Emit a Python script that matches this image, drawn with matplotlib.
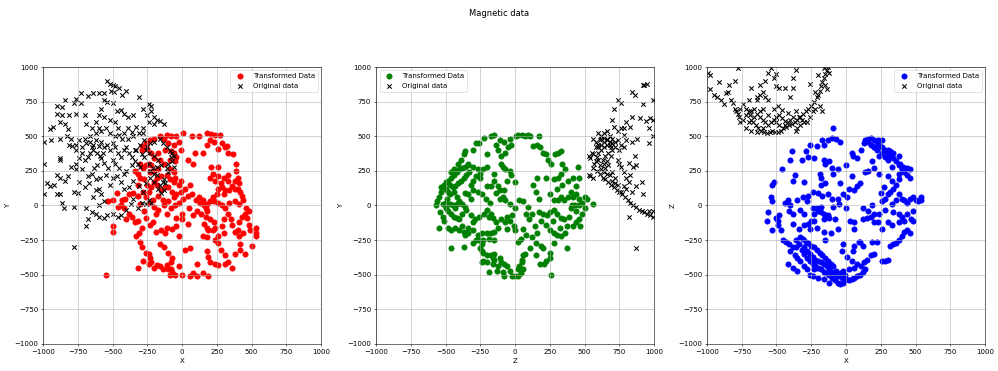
import matplotlib
matplotlib.use("Agg")
import matplotlib.pyplot as plt

# panel 1: X vs Y
xy_trans_x = [-160, -110, -80, -40, 10, 70, 120, 180, 210, 240, 270, 290, 260, 320, 200, 230, 180, 150, 90, 40, 80, -10, -20, -60, -100, -130, -200, -230, -260, -290, -290, -250, -220, -170, -120, -80, -60, -40, -50, -90,
              310, 330, 370, 390, 390, 330, 300, 260, 280, 240, 220, 200, 210, 260, 330, 360, 380, 400, 410, 400, 420, 430, 380, 340, 310, 290, 260, 300, 250, 220, 230, 260, 290, 310, 340, 380, 410, 440, 460, 480, 450, 430, 410, 400, 440, 410, 380, 360, 350, 330, 300, 290, 300, 260, 240, 230, 200, 180, 170, 160, 180, 200, 150, 130, 110, 140, 170, 180, 190, 180, 150, 160, 220, 240, 260, 280, 310, 330, 380, 420, 450, 500, 530, 530, 530, 490, 480, 470, 420, 360, 310, 260, 240, 200, 180, 190, 190, 150, 110, 80, 60, 20, 60, 110, 0, -20, -50, -70, -90, -80, -100, -110, -140, -160, -180, -200, -220, -240, -230, -240, -260, -280, -320, -290, -300, -330, -310, -290, -340, -360, -400, -380, -420, -440, -460, -500, -500, -550, -530, -500, -470, -430, -410, -380, -350, -320, -300, -270, -260, -230, -210, -190, -160, -130, -100, -70, -80, -20, -40, -70, -110, -120, -150, -190, -170, -130, -100, -60, -40, -10, -50, -20, 10, 40, 70, 100, 120, 60, 20, -20, -60, -90, -110, -150, -180, -200, -230, -240, -260, -280, -300, -320, -300, -270, -250, -220, -200, -240, -280, -320, -260, -210, -170, -150, -120, -170, -200, -160, -130, -90, -60, -50, -10, -100, -70, -140, -110, -80, -40, 0, 50, 80, 40, 0, -320, -200, -240, -340, -220, -180]
xy_trans_y = [500, 510, 500, 505, 520, 505, 500, 520, 515, 510, 510, 450, 410, 430, 470, 460, 440, 380, 380, 330, 300, 400, 460, 440, 450, 480, 480, 470, 450, 430, 400, 410, 380, 380, 400, 390, 380, 350, 320, 330,
              420, 380, 370, 300, 250, 220, 200, 210, 160, 180, 230, 200, 280, 280, 180, 140, 180, 200, 160, 120, 100, 70, 120, 110, 110, 130, 120, 80, 80, 60, 30, 20, 0, -20, 20, 30, 10, 40, -20, -40, -60, -80, -120, -180, -200, -220, -190, -140, -100, -60, -100, -150, -200, -220, -160, -120, -100, -40, -20, 0, 10, 30, 40, 20, -40, -60, -80, -160, -180, -230, -220, -130, -180, -250, -270, -320, -360, -410, -350, -320, -350, -290, -160, -200, -220, -180, -140, -90, -280, -450, -420, -430, -420, -410, -330, -370, -510, -490, -510, -490, -510, -320, -310, -420, -500, -440, -500, -480, -500, -460, -460, -430, -460, -440, -430, -450, -410, -420, -380, -350, -340, -400, -450, -300, -260, -220, -200, -160, -120, -80, -100, -60, -20, 0, -10, -150, -190, -505, 30, 40, 90, 40, 50, 80, 90, 70, 10, -40, -90, -140, -120, -190, -280, -300, -340, -380, -410, -220, -150, -170, -160, -200, -180, -60, -30, 0, 30, 60, 80, 100, 0, 20, 50, 70, 80, 40, 60, 150, 120, 150, 170, 190, 220, 210, 200, 250, 240, 300, 290, 270, 300, 230, 200, 190, 150, 130, 170, 100, 100, 150, 60, 40, 70, 110, 130, 260, 340, 330, 300, 260, 240, 200, 180, 130, 100, 40, -60, -20, -90, -60, -20, -70, -130, -100, -110, -10, 20, 250, 290, 150]
xy_orig_x = [-540, -520, -500, -480, -450, -510, -490, -400, -430, -560, -600, -640, -680, -730, -760, -780, -840, -860, -900, -860, -900, -880, -930, -950, -990, -940, -880, -820, -840, -810, -760, -730, -700, -690, -650, -620, -600, -580, -560, -540, -500, -470, -440, -420, -390, -350, -330, -310, -280, -240, -220, -220, -250, -200, -180, -160, -130, -200, -240, -280, -310, -350, -390, -420, -450, -480, -520, -550, -580, -520, -560, -600, -620, -660, -700, -740, -760, -790, -810, -760, -720, -690, -660, -640, -620, -600, -580, -560, -540, -520, -500, -480, -460, -440, -420, -400, -380, -360, -340, -320, -300, -340, -300, -270, -250, -230, -200, -160, -140, -110, -90, -80, -70, -60, -100, -130, -140, -130, -120, -160, -180, -210, -240, -270, -290, -330, -360, -400, -420, -450, -480, -500, -530, -560, -580, -610, -630, -650, -680, -720, -760, -800, -820, -840, -880, -900, -920, -950, -970, -990, -900, -880, -860, -850, -780, -750, -780, -690, -680, -690, -650, -620, -600, -560, -540, -500, -460, -440, -400, -370, -350, -320, -290, -260, -240, -220, -600, -560, -580, -600, -620, -640, -670, -700, -740, -520, -500, -470, -440, -420, -380, -350, -310, -280, -260, -230, -200, -170, -150, -550, -590, -620, -640, -660, -680, -700, -720, -740, -760, -780, -880, -880, -990, -800, -830, -650, -610, -590, -570, -480, -460, -430, -390, -360, -280, -260, -240, -200, -170, -150, -110, -100, -70, -60, -180, -200, -230]
xy_orig_y = [900, 880, 870, 860, 850, 830, 820, 830, 800, 810, 810, 810, 790, 810, 770, 740, 760, 710, 720, 650, 660, 600, 570, 550, 460, 470, 480, 550, 590, 650, 660, 740, 650, 590, 560, 600, 650, 700, 760, 750, 740, 680, 690, 660, 640, 650, 570, 780, 700, 730, 720, 680, 650, 640, 620, 610, 590, 590, 600, 560, 520, 500, 480, 520, 510, 500, 520, 560, 540, 620, 640, 560, 520, 500, 480, 470, 440, 430, 440, 400, 420, 450, 460, 440, 470, 430, 460, 420, 440, 400, 450, 420, 380, 350, 400, 420, 380, 350, 320, 300, 280, 400, 440, 470, 420, 450, 460, 480, 450, 420, 390, 350, 320, 280, 240, 190, 170, 110, 160, 150, 220, 270, 300, 350, 370, 400, 290, 250, 230, 270, 300, 330, 270, 310, 340, 290, 270, 230, 210, 260, 260, 280, 210, 180, 200, 220, 150, 140, 160, 80, 80, 80, 20, -20, 100, 90, -10, -20, -100, -150, -50, -60, -80, -90, -70, -60, -80, -70, -30, 10, 50, -20, 20, 10, 40, 20, 0, 30, 80, 120, 110, 60, 160, 130, 170, 150, 200, 210, 170, 120, 130, 180, 140, 100, 160, 200, 170, 120, 90, 220, 200, 190, 400, 380, 350, 330, 380, 340, 300, -300, 340, 330, 300, 480, 500, 420, 380, 360, 380, 600, 560, 480, 560, 530, 520, 400, 380, 360, 330, 290, 270, 300, 380, 360, 280, 230, 250]

# panel 2: Z vs Y
zy_trans_z = [-150, -170, -220, -260, -280, -300, -360, -370, -390, -410, -340, -300, -270, -230, -200, -120, -140, -110, -80, -40, -30, -50, 10, 20, 50, 70, 90, 110, 170, 130, 160, 180, 200, 220, 240, 260, 290, 310, 330, 340, 360, 330, 310, 280, 220, 160, 130, 150, 170, 250, 300, 340, 380, 420, 460, 450, 440, 400, 380, 350, 330, 310, 280, 420, 440, 460, 480, 500, 520, 560, 500, 480, 460, 440, 420, 470, 440, 400, 410, 430, 460, 390, 370, 360, 330, 300, 280, 320, 250, 220, 190, 170, 200, 230, 250, 270, 280, 250, 220, 250, 260, 180, 210, 150, 110, 120, 160, 60, 80, 40, 20, 70, 60, 50, 50, 30, 20, 60, 40, 20, 0, -20, -40, -60, -80, -100, -110, -150, -160, -120, -130, -90, -80, -200, -170, -160, -150, -190, -230, -240, -200, -230, -240, -250, -240, -230, -190, -150, -120, -150, -170, -200, -240, -270, -300, -340, -360, -370, -400, -370, -300, -280, -260, -300, -340, -380, -430, -460, -480, -460, -550, -510, -520, -540, -570, -560, -550, -530, -530, -510, -500, -480, -460, -440, -420, -400, -380, -360, -340, -440, -460, -500, -480, -470, -490, -500, -520, -500, -480, -460, -440, -420, -400, -380, -350, -320, -290, -260, -220, -200, -180, -210, -240, -270, -300, -320, -300, -280, -250, -370, -350, -330, -390, -410, -430, -450, -470, -440, -420, -400, -380, -360, -420, -450, -430, -470, -360, -340, -320, -200, -170, -150, -120, -110, -90, -70, -40, 0, 30, 60, 90, -20, -40, -10, 0, -60, -70, -60, -100, -140, -160, -170, -190, -140, -110, -80, -60, -30, -40, -70, 0, -150, -100, -70, -100, -90, -200, -250, 120, 140, 150, 190, 200, 80, 100, 370, 330, 300, 280, 350]
zy_trans_y = [510, 500, 490, 450, 450, 400, 390, 370, 330, 300, 300, 280, 260, 260, 370, 400, 440, 470, 460, 480, 440, 420, 500, 510, 510, 500, 510, 500, 500, 430, 440, 420, 380, 370, 330, 300, 370, 380, 390, 300, 260, 230, 200, 190, 200, 200, 150, 100, 50, 80, 120, 150, 180, 200, 200, 280, 140, 100, 60, 40, 60, 40, 40, 60, 80, 50, 20, 60, 50, 10, -20, -60, -100, -120, -150, -150, -40, -20, 0, 0, 0, -80, -150, -200, -220, -210, -200, -160, -180, -140, -110, -50, -60, -70, -50, -110, -270, -340, -400, -380, -500, -420, -420, -360, -310, -230, -200, -170, -210, -240, -260, -350, -360, -390, -410, -440, -460, -460, -490, -510, -510, -510, -470, -440, -420, -410, -380, -390, -420, -440, -470, -480, -510, -410, -360, -380, -350, -480, -400, -410, -360, -340, -330, -310, -280, -250, -240, -250, -160, -190, -200, -200, -200, -210, -180, -200, -210, -190, -180, -300, -270, -250, -250, -120, -160, -150, -160, -180, -160, -310, -160, -110, -80, -50, 0, 30, 60, 100, 130, 150, 170, 180, 200, 220, 240, 260, 270, 280, 290, 260, 240, 120, 100, 80, 50, 20, 10, -20, -40, -60, -80, -90, -100, -60, -30, -70, -100, -80, -60, -30, 20, 50, 80, 100, 110, 150, 180, 210, 230, 200, 220, 240, 180, 160, 140, 130, 150, 100, 60, 30, 10, -10, 10, 0, -20, 10, 90, 80, 50, 140, 140, 180, 140, 110, 60, 40, 10, -20, 40, 30, -10, -70, -110, -150, -180, -170, -120, -80, -100, -120, -90, -60, -80, 90, 50, 110, 180, 220, 250, 260, 170, 230, 360, 380, 300, 280, 280, 200, -60, -150, -270, -290, -310, -60, -100, -310, -90, -60, -30, -100]
zy_orig_z = [530, 540, 550, 560, 530, 540, 560, 570, 580, 590, 600, 620, 640, 660, 680, 700, 580, 600, 610, 620, 640, 660, 680, 660, 640, 620, 600, 580, 560, 600, 620, 640, 660, 680, 690, 700, 700, 720, 740, 760, 780, 750, 720, 670, 650, 630, 610, 620, 640, 660, 680, 650, 670, 640, 600, 660, 690, 630, 650, 670, 690, 710, 730, 750, 770, 790, 810, 830, 850, 870, 890, 910, 930, 950, 970, 990, 700, 720, 740, 780, 800, 820, 840, 870, 910, 920, 800, 780, 760, 740, 820, 850, 870, 830, 860, 880, 840, 800, 780, 760, 740, 710, 700, 710, 740, 760, 780, 800, 830, 840, 860, 840, 900, 920, 940, 970, 990, 960, 990, 990, 930, 920, 950, 960, 870, 820, 760, 720, 700, 590, 560, 610, 750, 990, 960]
zy_orig_y = [360, 340, 380, 370, 220, 210, 200, 300, 320, 350, 380, 400, 420, 440, 460, 480, 420, 440, 470, 500, 520, 540, 500, 480, 460, 440, 420, 460, 480, 520, 480, 490, 470, 440, 420, 400, 450, 460, 470, 440, 420, 400, 420, 380, 360, 330, 290, 260, 240, 230, 220, 270, 290, 300, 330, 320, 360, 200, 190, 170, 150, 130, 110, 100, 80, 60, 40, 20, 0, -10, -30, -40, -50, -60, -70, -80, 180, 160, 150, 140, 120, 170, 100, 140, 170, 80, 200, 240, 280, 330, 310, 280, 290, 220, 360, 480, 460, 470, 510, 560, 540, 570, 620, 700, 760, 740, 560, 600, 570, 640, 800, 820, 630, 730, 610, 630, 620, 560, 500, 760, 870, 870, 880, 450, -310, -80, 100, 200, 240, 250, 270, 230, 300, -40, -40]

# panel 3: X vs Z
xz_trans_x = [-90, -100, -70, -40, -130, -170, -160, -210, -260, -390, -400, -460, -370, -380, -300, -520, -530, -540, -530, -560, -570, -530, -500, -490, -470, -450, -430, -410, -420, -380, -350, -400, -360, -340, -320, -300, -280, -260, -240, -220, -200, -180, -160, -140, -120, -100, -80, -60, -40, -20, -10, -30, -50, -70, -90, -110, -130, -150, -170, -190, -210, -230, -250, -270, -290, -310, -330, -300, -280, -260, -240, -220, -200, -180, -160, -140, -120, -100, -80, -60, -40, -20, -10, -260, -280, -240, -200, -160, -120, -230, -300, -330, -350, -370, -380, -360, -300, -270, -250, -230, -210, -180, -200, -230, -210, -260, -300, -330, -350, -310, -280, -240, -160, -140, -120, -90, -50, -60, -100, -130, -170, -200, -180, -180, -90, -100, -60, -40, -20, 10, 20, 60, 80, 100, 40, 0, 50, 40, 80, 110, 130, 140, 160, 180, 200, 220, 240, 260, 280, 300, 320, 340, 360, 380, 400, 420, 440, 460, 260, 280, 300, 240, 220, 200, 180, 160, 300, 320, 260, 230, 200, 340, 380, 390, 410, 440, 460, 400, 380, 360, 340, 320, 300, 280, 260, 360, 380, 400, 420, 440, 460, 480, 500, 520, 540, 540, 480, 480, 470, 460, 440, 420, 400, 380, 360, 340, 320, 300, 280, 260, 200, 180, 150, 140, 120, 100, 80, 60, 40, 20, 0, 60, 80, 120, 100, 60, 10, 20, 40, 120, 150, 180, 200, 160, 240, 230, 190, 220, 260, 300, 330, 380, 380, 400, 420, 440, 200, 120, 190, 280, 340, 60, -60, -130, -80, 0, 30, 60, -110, -160, -20, -30, -180, -190, -150, -120, -160, -230, -320, -290, -270, -440, -420, -480, -490, -410, -400, -380, -380, -340, -150, -160, 140, 160, 190, 200, 240, 300, 330, 330, 380, 270, 250, 330, 90, 50, 130, 110, -150, -240, -270]
xz_trans_z = [560, 490, 480, 460, 470, 470, 440, 430, 440, 390, 330, 260, 220, 180, 170, 170, 150, 60, 30, -50, -110, -180, -90, -140, -180, -250, -260, -280, -420, -450, -470, -330, -300, -280, -320, -350, -380, -400, -420, -440, -450, -460, -480, -490, -500, -520, -540, -560, -570, -560, -540, -520, -500, -470, -440, -420, -400, -380, -360, -340, -320, -300, -290, -270, -260, -240, -230, -300, -330, -350, -370, -390, -400, -410, -420, -440, -460, -480, -500, -510, -490, -470, -500, -500, -460, -510, -520, -530, -560, -460, -440, -400, -380, -360, -300, -250, -140, -130, -110, -60, -20, -10, -40, -110, -160, -170, -60, -30, 40, 60, 30, -20, -60, -80, -90, -10, 10, 50, 50, 80, 70, 90, 150, 200, 230, 270, 260, 160, 80, 60, 120, 110, 140, 160, 210, 290, 360, 380, 340, 400, 450, 470, 480, 490, 470, 460, 440, 420, 400, 380, 360, 340, 320, 290, 270, 240, 220, 200, 380, 350, 330, 360, 400, 420, 440, 460, 400, 390, 470, 470, 420, 380, 360, 300, 280, 270, 260, 260, 230, 150, 120, 100, 80, 50, 30, 40, 80, 50, 40, 20, 50, 60, 40, 30, 60, 40, -40, -110, -100, -200, -180, -190, -220, -250, -270, -280, -290, -390, -400, -400, -350, -360, -390, -460, -480, -500, -510, -520, -530, -540, -530, -450, -420, -290, -260, -290, -370, -460, -400, -100, -90, -80, -60, -40, -60, -120, -260, -260, -170, -120, -140, -120, -60, -80, -110, -60, -120, -20, 0, -30, -50, -170, -170, -70, -100, -20, -110, -120, -200, -190, -280, -330, -50, 230, 300, 320, 330, 340, 330, 390, 350, 20, 40, -70, -110, -40, 0, -60, -130, -170, -250, -100, 240, 250, 320, 270, 230, 210, 180, 280, 190, 130, 90, 10, -260, -330, -410, -440, 160, 100, 70]
xz_orig_x = [-990, -980, -980, -950, -930, -910, -900, -880, -860, -840, -850, -830, -810, -800, -790, -780, -770, -760, -780, -800, -740, -720, -700, -690, -680, -670, -650, -630, -610, -590, -570, -550, -530, -510, -490, -470, -450, -430, -410, -390, -370, -350, -330, -310, -290, -270, -250, -230, -210, -200, -190, -180, -170, -160, -150, -140, -130, -740, -720, -700, -680, -660, -640, -620, -600, -580, -560, -540, -520, -500, -480, -460, -440, -420, -400, -380, -360, -340, -320, -660, -640, -620, -600, -620, -580, -560, -540, -500, -520, -500, -480, -440, -400, -380, -380, -360, -580, -560, -680, -640, -700, -760, -720, -680, -640, -600, -560, -520, -490, -460, -420, -300, -280, -260, -240, -220, -260, -220, -200, -160, -120, -150, -140, -190, -170, -480, -440, -500, -620, -600, -350, -360, -330]
xz_orig_z = [960, 940, 840, 800, 780, 890, 760, 730, 810, 870, 820, 760, 740, 700, 680, 660, 640, 700, 990, 900, 730, 700, 680, 650, 620, 600, 580, 560, 540, 530, 520, 530, 540, 530, 530, 540, 560, 570, 580, 590, 600, 620, 640, 660, 680, 700, 720, 750, 780, 800, 830, 860, 890, 920, 950, 980, 1000, 620, 650, 600, 680, 640, 660, 640, 620, 600, 580, 600, 620, 640, 650, 630, 610, 600, 620, 640, 680, 640, 620, 700, 760, 800, 820, 870, 900, 960, 990, 950, 920, 860, 850, 850, 780, 850, 920, 980, 780, 760, 850, 780, 760, 600, 560, 540, 530, 560, 650, 700, 720, 690, 670, 600, 600, 640, 680, 700, 880, 820, 940, 990, 960, 870, 840, 720, 680, 580, 580, 600, 680, 700, 560, 540, 580]

panels = [
    (xy_trans_x, xy_trans_y, xy_orig_x, xy_orig_y, "red", "upper right", "X", "Y"),
    (zy_trans_z, zy_trans_y, zy_orig_z, zy_orig_y, "green", "upper left", "Z", "Y"),
    (xz_trans_x, xz_trans_z, xz_orig_x, xz_orig_z, "blue", "upper right", "X", "Z"),
]
lefts = [0.0431, 0.3768, 0.7084]

fig = plt.figure(figsize=(19.96, 7.42), dpi=50)
fig.suptitle("Magnetic data", y=0.975)

for left, (tx, ty, ox, oy, col, loc, xl, yl) in zip(lefts, panels):
    ax = fig.add_axes([left, 0.0728, 0.2786, 0.7466])
    ax.scatter(tx, ty, color=col, s=58, label="Transformed Data")
    ax.scatter(ox, oy, color="black", marker="x", s=40, label="Original data")
    ax.set_xlim(-1000, 1000)
    ax.set_ylim(-1000, 1000)
    ax.set_xlabel(xl)
    ax.set_ylabel(yl)
    ax.grid(True)
    ax.legend(loc=loc)

fig.savefig("out.png", dpi=50)
